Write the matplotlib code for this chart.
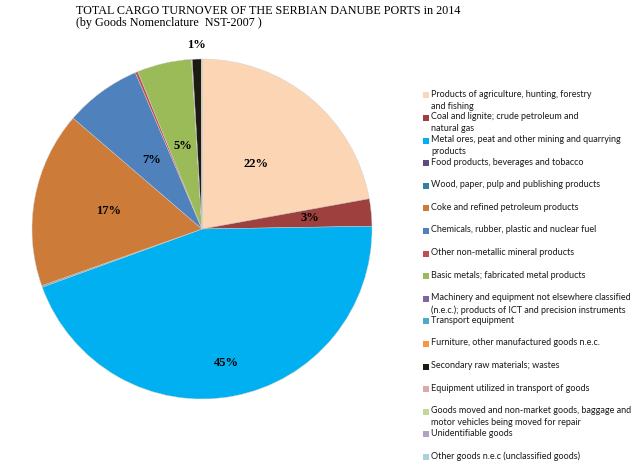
import matplotlib
matplotlib.use("Agg")
import matplotlib.pyplot as plt
from matplotlib.patches import Rectangle
import numpy as np

title_lines = ["TOTAL CARGO TURNOVER OF THE SERBIAN DANUBE PORTS in 2014",
               "(by Goods Nomenclature  NST-2007 )"]

categories = [
    "Products of agriculture, hunting, forestry\nand fishing",
    "Coal and lignite; crude petroleum and\nnatural gas",
    "Metal ores, peat and other mining and quarrying\nproducts",
    "Food products, beverages and tobacco",
    "Wood, paper, pulp and publishing products",
    "Coke and refined petroleum products",
    "Chemicals, rubber, plastic and nuclear fuel",
    "Other non-metallic mineral products",
    "Basic metals; fabricated metal products",
    "Machinery and equipment not elsewhere classified\n(n.e.c.); products of ICT and precision instruments",
    "Transport equipment",
    "Furniture, other manufactured goods n.e.c.",
    "Secondary raw materials; wastes",
    "Equipment utilized in transport of goods",
    "Goods moved and non-market goods, baggage and\nmotor vehicles being moved for repair",
    "Unidentifiable goods",
    "Other goods n.e.c (unclassified goods)",
]

shares = [22.2, 2.6, 44.8, 0.05, 0.1, 16.75, 7.3, 0.25, 5.2,
          0.02, 0.02, 0.02, 0.9, 0.01, 0.01, 0.0, 0.0]

label_texts = ["22%", "3%", "45%", "", "", "17%", "7%", "", "5%",
               "", "", "", "1%", "", "", "", ""]

colors = ["#FCD5B5", "#9E413E", "#00B0F0", "#604A7B", "#31849B", "#CD7B38",
          "#4F81BD", "#C0504D", "#9BBB59", "#8064A2", "#4BACC6", "#F79646",
          "#1D1B10", "#DDA9A8", "#C4D79B", "#B3A2C7", "#A8D0DF"]

W, H = 643, 472
fig = plt.figure(figsize=(W / 100, H / 100), dpi=100)

def fx(px):
    return px / W

def fy(py):
    return 1 - py / H

# Title
fig.text(fx(76), fy(11), title_lines[0], family="Liberation Serif", fontsize=8.7,
         ha="left", va="center", color="black")
fig.text(fx(76), fy(23), title_lines[1], family="Liberation Serif", fontsize=8.7,
         ha="left", va="center", color="black")

# Pie
cx, cy, r = 202, 229, 170
ax = fig.add_axes([fx(cx - r), fy(cy + r), (2 * r) / W, (2 * r) / H])
vals = [max(v, 1e-9) for v in shares]
wedges, _ = ax.pie(vals, colors=colors, startangle=90, counterclock=False,
                   radius=1, wedgeprops=dict(linewidth=0.3, edgecolor="#d0d0d0"))
ax.set_xlim(-1, 1)
ax.set_ylim(-1, 1)
ax.set_aspect("equal")
ax.axis("off")

label_radius = {0: 0.5, 1: 0.64, 2: 0.8, 5: 0.56, 6: 0.5, 8: 0.5, 12: 1.08}
for i, w in enumerate(wedges):
    if not label_texts[i]:
        continue
    mid = np.deg2rad((w.theta1 + w.theta2) / 2)
    rr = label_radius.get(i, 0.6)
    ax.text(rr * np.cos(mid), rr * np.sin(mid), label_texts[i],
            family="Liberation Serif", fontweight="bold", fontsize=9,
            ha="center", va="center", color="black", clip_on=False)

# Legend
y0, dy = 95.3, 22.6
for i, (lab, c) in enumerate(zip(categories, colors)):
    yc = y0 + dy * i
    fig.patches.append(Rectangle((fx(423), fy(yc + 3)), 6 / W, 6 / H,
                                 transform=fig.transFigure, facecolor=c,
                                 edgecolor="none"))
    fig.text(fx(431), fy(yc - 5.5), lab, family="Lato", fontsize=6.45,
             ha="left", va="top", color="#1a1a1a", linespacing=1.42)

fig.savefig("out.png", dpi=100)
